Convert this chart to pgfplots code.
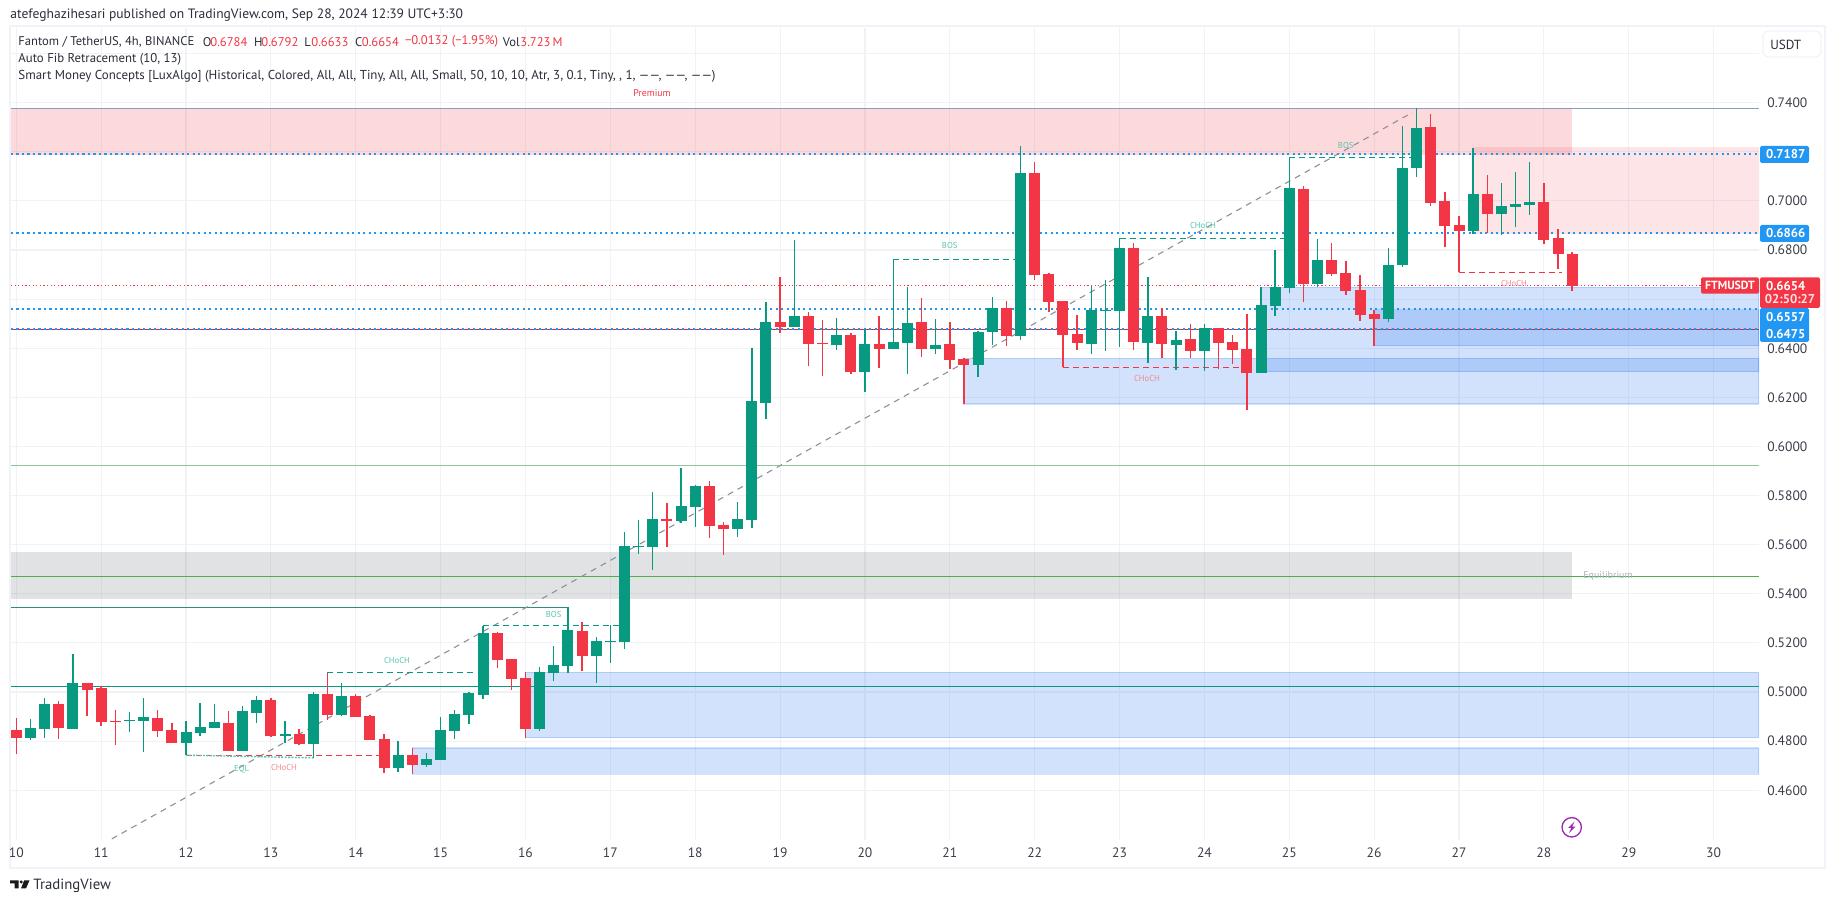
\documentclass[border=0pt]{standalone}
\usepackage{fontspec}
\setmainfont{PT Sans}
\usepackage{pgfplots}
\usepackage{pgfplotstable}
\pgfplotsset{compat=1.18}
\definecolor{cg}{HTML}{089981}
\definecolor{cr}{HTML}{F23645}
\definecolor{cblue}{HTML}{2196F3}
\definecolor{zblue}{HTML}{216EF0}
\definecolor{gridc}{HTML}{F1F2F6}
\definecolor{framec}{HTML}{F0F3FA}
\definecolor{txt}{HTML}{2A2E39}
\definecolor{axt}{HTML}{3B3F4A}
\definecolor{topl}{HTML}{8A9CC4}
\definecolor{lgreen}{HTML}{8FC79A}
\definecolor{mgreen}{HTML}{4CAF50}
\definecolor{dteal}{HTML}{2A8F78}
\definecolor{lteal}{HTML}{5CC4AE}
\definecolor{lred}{HTML}{F7888F}
\definecolor{zgray}{HTML}{787B86}
\definecolor{fibc}{HTML}{8E9199}
\definecolor{eqz}{HTML}{B2B5BE}
\definecolor{purp}{HTML}{9C27B0}
\pgfplotstableread{
x o c h l
1 .4813 .4854 .4890 .4805
2 .4850 .4951 .4976 .4813
4 .4850 .5037 .5155 .4850
8 .4884 .4886 .4919 .4837
9 .4882 .4899 .4976 .4756
12 .4793 .4837 .4882 .4744
13 .4833 .4858 .4956 .4821
14 .4854 .4878 .4951 .4854
16 .4760 .4923 .4943 .4760
17 .4915 .4968 .4984 .4874
19 .4821 .4829 .4882 .4793
21 .4789 .4992 .5000 .4732
23 .4907 .4984 .5037 .4903
27 .4691 .4744 .4801 .4675
29 .4703 .4728 .4752 .4695
30 .4723 .4846 .4899 .4723
31 .4842 .4911 .4927 .4809
32 .4906 .4996 .5000 .4870
33 .4988 .5240 .5269 .4971
37 .4850 .5082 .5102 .4841
38 .5078 .5110 .5188 .5045
39 .5106 .5253 .5345 .5078
41 .5147 .5208 .5224 .5037
42 .5204 .5208 .5273 .5118
43 .5204 .5595 .5652 .5175
44 .5591 .5595 .5701 .5563
45 .5591 .5705 .5815 .5497
47 .5697 .5758 .5913 .5689
48 .5754 .5840 .5844 .5672
51 .5665 .5705 .5775 .5632
52 .5701 .6185 .6401 .5669
53 .6177 .6507 .6588 .6112
55 .6486 .6531 .6841 .6486
58 .6413 .6454 .6523 .6393
60 .6303 .6417 .6478 .6222
62 .6397 .6425 .6763 .6397
63 .6421 .6503 .6649 .6295
65 .6397 .6413 .6519 .6376
68 .6332 .6466 .6470 .6283
69 .6466 .6564 .6608 .6413
71 .6450 .7114 .7224 .6434
76 .6418 .6556 .6654 .6377
77 .6552 .6556 .6678 .6389
78 .6552 .6808 .6848 .6405
80 .6422 .6532 .6690 .6340
82 .6413 .6434 .6470 .6312
84 .6389 .6483 .6499 .6308
88 .6299 .6576 .6650 .6299
89 .6572 .6650 .6800 .6532
90 .6646 .7053 .7178 .6625
92 .6662 .6760 .6845 .6650
97 .6519 .6739 .6808 .6507
98 .6739 .7134 .7305 .6731
99 .7134 .7297 .7379 .7098
103 .6878 .7028 .7216 .6866
105 .6947 .6980 .7073 .6862
106 .6976 .6988 .7118 .6894
107 .6984 .6996 .7159 .6943
}\tabG
\pgfplotstableread{
x o c h l
0 .4846 .4813 .4894 .4748
3 .4951 .4854 .4964 .4809
5 .5037 .5009 .5037 .4903
6 .5017 .4878 .5023 .4862
7 .4881 .4878 .4927 .4785
10 .4894 .4842 .4927 .4817
11 .4846 .4793 .4874 .4793
15 .4874 .4760 .4923 .4760
18 .4968 .4821 .4976 .4817
20 .4829 .4789 .4850 .4785
22 .4992 .4907 .5078 .4886
24 .4984 .4899 .4992 .4899
25 .4903 .4805 .4907 .4805
26 .4809 .4691 .4829 .4671
28 .4744 .4703 .4772 .4666
34 .5240 .5130 .5244 .5098
35 .5134 .5053 .5134 .5008
36 .5057 .4850 .5082 .4814
40 .5249 .5147 .5285 .5086
46 .5705 .5697 .5770 .5591
49 .5840 .5677 .5860 .5628
50 .5681 .5665 .5693 .5559
54 .6507 .6486 .6690 .6462
56 .6531 .6417 .6547 .6327
57 .6421 .6417 .6515 .6287
59 .6454 .6303 .6462 .6295
61 .6417 .6397 .6531 .6319
64 .6507 .6397 .6604 .6364
66 .6417 .6352 .6507 .6315
67 .6356 .6332 .6360 .6173
70 .6564 .6450 .6592 .6409
72 .7114 .6699 .7159 .6678
73 .6703 .6589 .6707 .6548
74 .6593 .6454 .6593 .6323
75 .6458 .6422 .6536 .6393
79 .6808 .6426 .6829 .6393
81 .6532 .6418 .6564 .6361
83 .6438 .6389 .6499 .6361
85 .6483 .6422 .6483 .6316
86 .6426 .6393 .6454 .6336
87 .6397 .6299 .6540 .6149
91 .7049 .6662 .7061 .6589
93 .6760 .6703 .6829 .6694
94 .6707 .6633 .6756 .6617
95 .6637 .6536 .6699 .6511
96 .6540 .6519 .6556 .6409
100 .7301 .6992 .7354 .6980
101 .7000 .6898 .7037 .6813
102 .6902 .6878 .6939 .6710
104 .7028 .6947 .7106 .6868
108 .6996 .6841 .7073 .6825
109 .6849 .6784 .6886 .6723
110 .6784 .6654 .6792 .6633
}\tabR
\newcommand\Zone[4]{\addplot[draw=zblue,draw opacity=.2,line width=.55pt,fill=zblue,fill opacity=.2] coordinates {(#1,#3)(#2,#3)(#2,#4)(#1,#4)} --cycle;}
\newcommand\HL[4]{\addplot[#1] coordinates {(#2,#4)(#3,#4)};}
\tikzset{
 sdash/.style={line width=.5pt,dash pattern=on 3pt off 2pt},
 bdot/.style={draw=cblue,line width=1pt,dash pattern=on 1.1pt off 1.65pt},
 smalllab/.style={font=\fontsize{4.3pt}{5pt}\selectfont,inner sep=0pt},
 leg/.style={font=\fontsize{6.3pt}{7pt}\selectfont,inner sep=0pt,anchor=west,text=txt},
 legr/.style={leg,text=cr},
 bluebox/.style={fill=cblue,draw=none,rounded corners=.8pt},
 wl/.style={font=\fontsize{6.4pt}{7pt}\selectfont\bfseries,text=white,inner sep=0pt}
}
\begin{document}
\begin{tikzpicture}
\path[use as bounding box,fill=white] (0,0) rectangle (917.5pt,451.5pt);
\draw[framec,line width=1pt] (5pt,17.5pt) rectangle (912.5pt,438.5pt);
\begin{axis}[
 at={(5.5pt,31.5pt)},anchor=south west,
 scale only axis,width=874pt,height=406pt,
 xmin=-0.375,xmax=123.21,ymin=0.43975,ymax=0.77042,
 axis line style={draw=none},
 major tick length=0pt,
 xtick={0,6,12,18,24,30,36,42,48,54,60,66,72,78,84,90,96,102,108,114,120},
 xticklabels={10,11,12,13,14,15,16,17,18,19,20,21,22,23,24,25,26,27,28,29,30},
 ytick={.46,.48,.50,.52,.54,.56,.58,.60,.62,.64,.66,.68,.70,.72,.74,.76},
 yticklabels={0.4600,0.4800,0.5000,0.5200,0.5400,0.5600,0.5800,0.6000,0.6200,0.6400,,0.6800,0.7000,,0.7400,},
 yticklabel pos=right,
 xticklabel style={font=\fontsize{6.8pt}{7pt}\selectfont,text=axt,anchor=center,inner sep=0pt,yshift=-6.5pt},
 yticklabel style={font=\fontsize{6.8pt}{7pt}\selectfont,text=axt,anchor=west,inner sep=0pt,xshift=4pt},
 grid=major,
 major grid style={draw=gridc,line width=.55pt},
 clip=true,
]
% supply and grey zones
\addplot[draw=none,fill=cr,fill opacity=.19] coordinates {(-0.375,.7377)(110,.7377)(110,.7187)(-0.375,.7187)} --cycle;
\addplot[draw=cr,draw opacity=.12,fill=cr,fill opacity=.13] coordinates {(103,.7216)(123.21,.7216)(123.21,.6868)(103,.6868)} --cycle;
\addplot[draw=none,fill=zgray,fill opacity=.22] coordinates {(-0.375,.5570)(110,.5570)(110,.5380)(-0.375,.5380)} --cycle;
% demand zones
\Zone{36}{123.21}{.5080}{.4814}
\Zone{28}{123.21}{.4772}{.4666}
\Zone{67}{123.21}{.6360}{.6173}
\Zone{88}{123.21}{.6648}{.6305}
\Zone{96}{123.21}{.6556}{.6411}
% long horizontal lines
\HL{draw=topl,line width=.7pt}{-0.375}{123.21}{.7377}
\HL{draw=lgreen,line width=.6pt}{-0.375}{123.21}{.5923}
\HL{draw=mgreen,line width=.6pt}{-0.375}{123.21}{.5471}
\HL{draw=dteal,line width=.6pt}{-0.375}{39}{.5345}
\HL{draw=cg,line width=.65pt}{-0.375}{123.21}{.5023}
\HL{draw=cr!85!black,line width=.55pt}{-0.375}{123.21}{.6477}
\HL{bdot}{-0.375}{123.21}{.7192}
\HL{bdot}{-0.375}{123.21}{.6871}
\HL{bdot}{-0.375}{123.21}{.6560}
\HL{bdot}{-0.375}{123.21}{.6480}
\HL{draw=cr,line width=.5pt,dash pattern=on .6pt off 1.2pt}{-0.375}{123.21}{.6654}
% fib trend line
\addplot[draw=fibc,line width=.55pt,dash pattern=on 3pt off 2.6pt] coordinates {(6.75,.4402)(98.7,.7360)};
% structure lines
\HL{draw=cr,sdash}{12}{26}{.4742}
\addplot[draw=lteal,line width=.7pt,dash pattern=on 1pt off .7pt] coordinates {(12,.4743)(21,.4732)};
\HL{draw=cg,sdash}{22}{32.5}{.5078}
\HL{draw=cg,sdash}{33}{43}{.5269}
\HL{draw=cg,sdash}{62}{71}{.6762}
\HL{draw=cr,sdash}{74}{87}{.6322}
\HL{draw=cg,sdash}{78}{90}{.6848}
\HL{draw=cg,sdash}{90}{98.7}{.7178}
\HL{draw=cr,sdash}{102}{109.3}{.6709}
% candles: wicks then bodies
\addplot[draw=none,error bars/.cd,y dir=plus,y explicit,error mark=none,error bar style={draw=cg,line width=.7pt}] table[x=x,y=l,y error plus expr=\thisrow{h}-\thisrow{l}] {\tabG};
\addplot[draw=none,error bars/.cd,y dir=plus,y explicit,error mark=none,error bar style={draw=cr,line width=.7pt}] table[x=x,y=l,y error plus expr=\thisrow{h}-\thisrow{l}] {\tabR};
\addplot[draw=none,error bars/.cd,y dir=plus,y explicit,error mark=none,error bar style={draw=cg,line width=5.5pt}] table[x=x,y=o,y error plus expr=\thisrow{c}-\thisrow{o}] {\tabG};
\addplot[draw=none,error bars/.cd,y dir=plus,y explicit,error mark=none,error bar style={draw=cr,line width=5.5pt}] table[x=x,y=c,y error plus expr=\thisrow{o}-\thisrow{c}] {\tabR};
\end{axis}
\begin{scope}[x=.5pt,y=-.5pt,shift={(0pt,451.5pt)}]
% header and legend
\node[leg,text=txt,font=\fontsize{6.78pt}{7pt}\selectfont] at (10,15) {atefeghazihesari published on TradingView.com, Sep 28, 2024 12:39 UTC+3:30};
\node[leg] at (18,41.7) {Fantom / TetherUS, 4h, BINANCE};
\node[leg] at (202.5,41.7) {O};
\node[legr] at (210,41.7) {0.6784};
\node[leg] at (253.6,41.7) {H};
\node[legr] at (261,41.7) {0.6792};
\node[leg] at (304,41.7) {L};
\node[legr] at (311,41.7) {0.6633};
\node[leg] at (354.6,41.7) {C};
\node[legr] at (361.5,41.7) {0.6654};
\node[legr] at (404.6,41.7) {−0.0132 (−1.95\%)};
\node[leg] at (502.5,41.7) {Vol};
\node[legr] at (520,41.7) {3.723\,M};
\node[leg,font=\fontsize{6.4pt}{7pt}\selectfont] at (18,59.5) {Auto Fib Retracement (10, 13)};
\node[leg,font=\fontsize{6.48pt}{7pt}\selectfont] at (18,76) {Smart Money Concepts [LuxAlgo] (Historical, Colored, All, All, Tiny, All, All, Small, 50, 10, 10, Atr, 3, 0.1, Tiny, , 1, ------, ------, ------)};
\node[smalllab,text=cr,font=\fontsize{4.9pt}{5pt}\selectfont] at (652,92.7) {Premium};
% USDT button
\draw[framec,line width=.6pt,rounded corners=2.5pt,fill=white] (1763,31) rectangle (1821,57);
\node[leg,anchor=center,font=\fontsize{6.6pt}{7pt}\selectfont] at (1785.7,45) {USDT};
% inner chart labels
\node[smalllab,text=lteal] at (397,660) {CHoCH};
\node[smalllab,text=lteal] at (241.7,769) {EQL};
\node[smalllab,text=lred] at (284,767) {CHoCH};
\node[smalllab,text=lteal] at (553.7,614) {BOS};
\node[smalllab,text=lteal] at (949.7,246) {BOS};
\node[smalllab,text=lred] at (1147,379) {CHoCH};
\node[smalllab,text=lteal] at (1203,225.7) {CHoCH};
\node[smalllab,text=lteal] at (1345.7,145.7) {BOS};
\node[smalllab,text=lred] at (1514,283.7) {CHoCH};
\node[smalllab,text=eqz,font=\fontsize{5pt}{6pt}\selectfont] at (1608,575.7) {Equilibrium};
% price axis tags
\fill[bluebox] (1760,146) rectangle (1809,163);
\node[wl] at (1785.7,154.5) {0.7187};
\fill[bluebox] (1760,225) rectangle (1809,242);
\node[wl] at (1785.7,233.5) {0.6866};
\fill[bluebox] (1760,308) rectangle (1809,342);
\node[wl] at (1785.7,316.7) {0.6557};
\node[wl] at (1785.7,333.7) {0.6475};
\fill[cr,rounded corners=.8pt] (1701,277.3) rectangle (1759,293.7);
\node[wl,font=\fontsize{5.9pt}{7pt}\selectfont\bfseries] at (1730,285.7) {FTMUSDT};
\fill[cr,rounded corners=.8pt] (1760,277.3) rectangle (1820,308);
\node[wl] at (1785.7,285.7) {0.6654};
\node[wl,anchor=center,text=white!85!cr] at (1790,299.3) {02:50:27};
% lightning icon
\draw[purp,line width=.65pt] (1571.7,827.3) circle (9.7);
\fill[purp] (1574.5,821.5) -- (1568,828) -- (1571.3,828) -- (1569,833) -- (1575.5,826.6) -- (1572.2,826.6) -- cycle;
% TradingView logo
\fill[black!90] (10,880.3) -- (18.5,880.3) -- (18.5,888.5) -- (14.5,888.5) -- (14.5,883.5) -- (10,883.5) -- cycle;
\fill[black!90] (21.2,882) circle (1.7);
\fill[black!90] (24.2,880.3) -- (29.5,880.3) -- (26,888.5) -- (21,888.5) -- cycle;
\node[leg,font=\fontsize{7.4pt}{8pt}\selectfont] at (33,885.5) {TradingView};
\end{scope}
\end{tikzpicture}
\end{document}
